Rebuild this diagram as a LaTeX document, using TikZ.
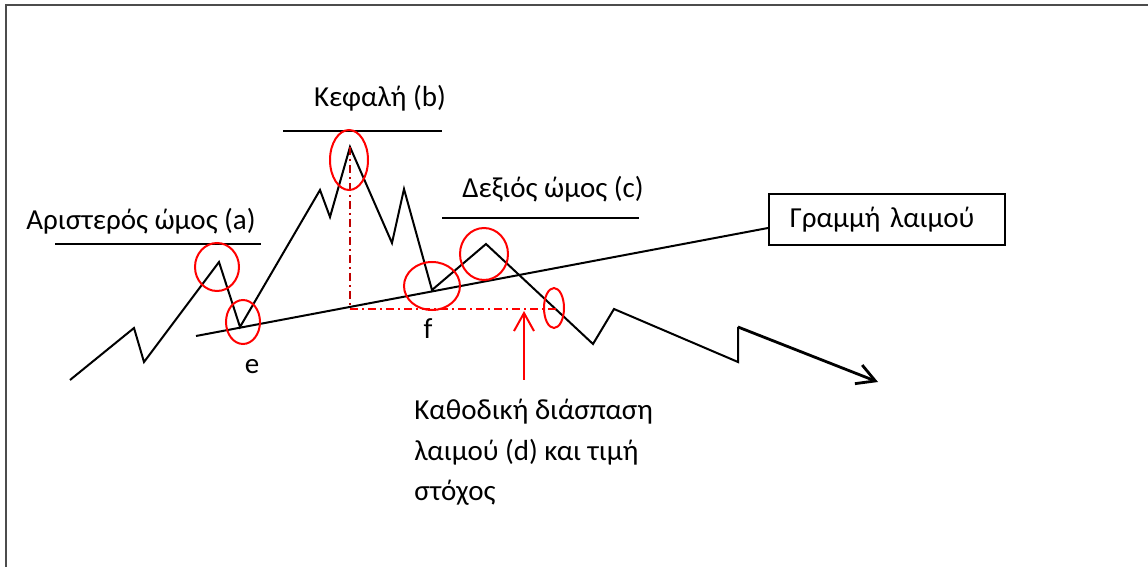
\documentclass[tikz,border=0pt]{standalone}
\usepackage{fontspec}
\setmainfont{Carlito}
\usetikzlibrary{arrows.meta}

\begin{document}
\begin{tikzpicture}[x=0.5pt,y=-0.5pt,every node/.style={font=\fontsize{14.5}{20}\selectfont,inner sep=0pt},price/.style={line width=1pt,line join=miter},ring/.style={red,line width=1pt},bar/.style={line width=0.75pt},guide/.style={line width=0.8pt,dash pattern=on 4pt off 2pt on 1pt off 2pt},barb/.style={-{Straight Barb[length=9pt,width=10pt]}}]
    \useasboundingbox (0,0) rectangle (1148,567);
    \draw[line width=1pt,black!70] (6,567) -- (6,5) -- (1148,5);
    \draw[price] (70,380) -- (134,328) -- (144,362) -- (219,262) -- (240,327) -- (320,190) -- (330,217) -- (350,147) -- (392,243) -- (404,189) -- (432,290) -- (486,244) -- (593,344) -- (614,309) -- (738,362) -- (738,327);
    \draw[price,line width=1.4pt,barb] (738,327) -- (878,382);
    \node[anchor=base](la) at (141,230){Αριστερός ώμος (a)};
    \node[anchor=base](hd) at (380,107){Κεφαλή (b)};
    \node[anchor=base](rs) at (553,198){Δεξιός ώμος (c)};
    \draw[bar] (55,244) -- (261,244);
    \draw[bar] (283,131) -- (442,131);
    \draw[bar] (442,218) -- (639,218);
    \node[draw,line width=0.8pt,anchor=north west,minimum width=117.5pt,minimum height=25.5pt,text width=97pt,inner xsep=10.5pt,align=left](neck) at (768,193){Γραμμή λαιμού};
    \coordinate (nk) at (196,336);
    \coordinate (nkend) at (768,228);
    \draw[price] (nk) -- (nkend);
    \draw[guide,red!75!black] (350,147) -- (350,309);
    \draw[guide,red] (350,309) -- (557,309);
    \draw[ring] (217,267) ellipse [x radius=11pt,y radius=12pt];
    \draw[ring] (243,322) ellipse [x radius=8.5pt,y radius=11pt];
    \draw[ring] (349,160) ellipse [x radius=9.5pt,y radius=15pt];
    \draw[ring] (432,286) ellipse [x radius=14pt,y radius=12pt];
    \draw[ring] (484,254) ellipse [x radius=12pt,y radius=13pt];
    \draw[ring] (554,308) ellipse [x radius=5pt,y radius=10pt];
    \node[anchor=base](e) at (252,373){e};
    \node[anchor=base](f) at (428,338){f};
    \node[anchor=base west,align=left](note) at (414,500){Καθοδική διάσπαση\\λαιμού (d) και τιμή\\στόχος};
    \coordinate (src) at (524,380);
    \coordinate (tgt) at (524,311);
    \draw[red,line width=1pt,barb] (src) -- (tgt);
  \end{tikzpicture}
\end{document}
